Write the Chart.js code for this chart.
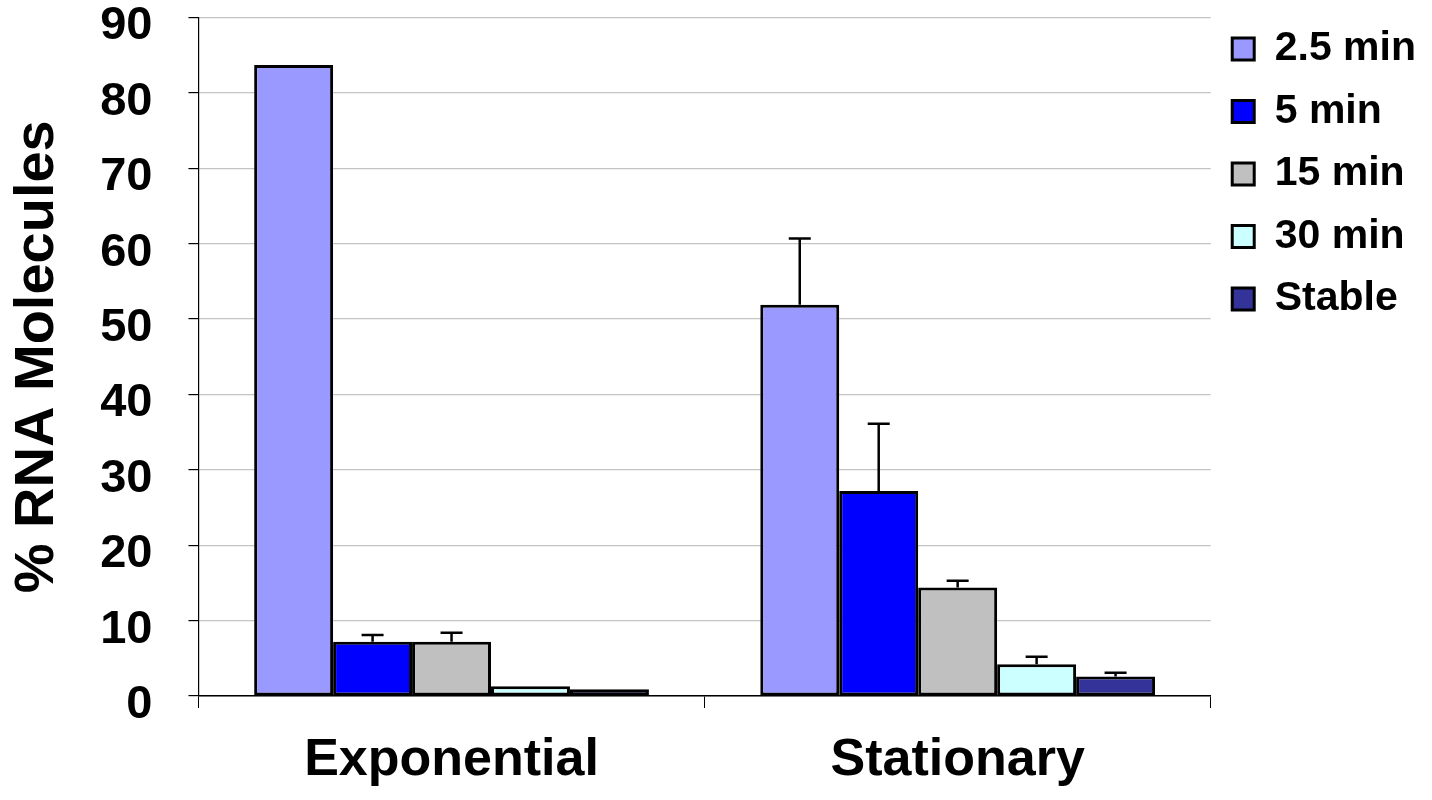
<!DOCTYPE html>
<html>
<head>
<meta charset="utf-8">
<script src="https://cdn.jsdelivr.net/npm/chart.js@4"></script>
<style>
    html, body { margin: 0; padding: 0; background: #fff; }
    #wrap { width: 1432px; height: 800px; }
</style>
</head>
<body>
<div id="wrap"><canvas id="rnaChart" width="1432" height="800"></canvas></div>
<script>
const CATEGORIES = ['Exponential', 'Stationary'];
const SERIES_NAMES = ['2.5 min', '5 min', '15 min', '30 min', 'Stable'];

const VALUES_2_5 = [83.7, 51.9];
const VALUES_5 = [7.2, 27.2];
const VALUES_15 = [7.2, 14.4];
const VALUES_30 = [1.3, 4.2];
const VALUES_STABLE = [0.9, 2.6];

const ERRORS_2_5 = [0, 8.8];
const ERRORS_5 = [0.9, 8.9];
const ERRORS_15 = [1.2, 0.9];
const ERRORS_30 = [0, 1.0];
const ERRORS_STABLE = [0, 0.5];

const Y_TICKS = [0, 10, 20, 30, 40, 50, 60, 70, 80, 90];

const FILLS = ['#9999FF', '#0000FF', '#C0C0C0', '#CCFFFF', '#333399'];

const seriesValues = [VALUES_2_5, VALUES_5, VALUES_15, VALUES_30, VALUES_STABLE];
const seriesErrors = [ERRORS_2_5, ERRORS_5, ERRORS_15, ERRORS_30, ERRORS_STABLE];

const FONT = '"Liberation Sans", Arial, sans-serif';

// upper error bars, placed through the chart's own scales
const errorBars = {
    id: 'errorBars',
    afterDatasetsDraw(chart) {
        const ctx = chart.ctx;
        const yScale = chart.scales.y;
        ctx.save();
        ctx.strokeStyle = '#000';
        ctx.lineWidth = 2.5;
        chart.data.datasets.forEach((ds, i) => {
            const meta = chart.getDatasetMeta(i);
            meta.data.forEach((bar, j) => {
                const err = ds.errors[j];
                if (!err) return;
                const top = yScale.getPixelForValue(ds.data[j] + err);
                ctx.beginPath();
                ctx.moveTo(bar.x, bar.y);
                ctx.lineTo(bar.x, top);
                ctx.moveTo(bar.x - 11, top);
                ctx.lineTo(bar.x + 11, top);
                ctx.stroke();
            });
        });
        ctx.restore();
    }
};

const datasets = SERIES_NAMES.map((name, i) => ({
    label: name,
    data: seriesValues[i],
    errors: seriesErrors[i],
    backgroundColor: FILLS[i],
    borderColor: '#000',
    borderWidth: 3,
    borderSkipped: false,
    categoryPercentage: 0.78,
    barPercentage: 1.0
}));

new Chart(document.getElementById('rnaChart').getContext('2d'), {
    type: 'bar',
    data: { labels: CATEGORIES, datasets: datasets },
    plugins: [errorBars],
    options: {
        responsive: false,
        animation: false,
        layout: { padding: { top: 7, left: 11, right: 6, bottom: 4 } },
        scales: {
            x: {
                afterFit: (scale) => { scale.height = 100; },
                grid: {
                    offset: true,
                    drawOnChartArea: false,
                    drawTicks: true,
                    tickLength: 12,
                    tickColor: '#000'
                },
                border: { color: '#000', width: 1.5 },
                ticks: {
                    color: '#000',
                    padding: 21,
                    font: { family: FONT, size: 52, weight: 'bold' }
                }
            },
            y: {
                min: 0,
                max: 90,
                afterBuildTicks: (scale) => {
                    scale.ticks = Y_TICKS.map(v => ({ value: v }));
                },
                afterFit: (scale) => {
                    scale.paddingTop = 17.5;
                    scale.paddingBottom = 0;
                },
                grid: {
                    color: '#c4c4c4',
                    lineWidth: 1.2,
                    tickLength: 10,
                    tickColor: '#000'
                },
                border: { color: '#000', width: 1.2 },
                ticks: {
                    color: '#000',
                    padding: 36,
                    labelOffset: 9,
                    font: { family: FONT, size: 47, weight: 'bold', lineHeight: 0.7 }
                },
                title: {
                    display: true,
                    text: '% RNA Molecules',
                    color: '#000',
                    padding: { top: 0, bottom: 0 },
                    font: { family: FONT, size: 56, weight: 'bold', lineHeight: 0.95 }
                }
            }
        },
        plugins: {
            legend: {
                position: 'right',
                align: 'start',
                labels: {
                    color: '#000',
                    boxWidth: 22,
                    boxHeight: 22,
                    padding: 21.5,
                    font: { family: FONT, size: 41, weight: 'bold' }
                }
            },
            tooltip: { enabled: false }
        }
    }
});
</script>
</body>
</html>
